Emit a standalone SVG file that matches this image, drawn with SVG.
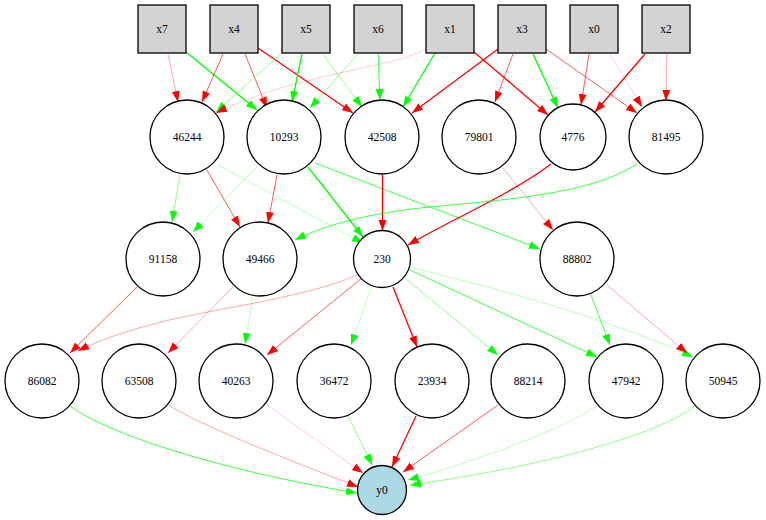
<svg xmlns="http://www.w3.org/2000/svg" width="766" height="520" viewBox="0 0 766 520">
<defs>
<marker id="ar" markerUnits="userSpaceOnUse" markerWidth="12" markerHeight="9" refX="11" refY="4" orient="auto"><polygon points="0,0 11,4 0,8" style="fill:#ff0000;stroke:none"/></marker>
<marker id="ag" markerUnits="userSpaceOnUse" markerWidth="12" markerHeight="9" refX="11" refY="4" orient="auto"><polygon points="0,0 11,4 0,8" style="fill:#00ff00;stroke:none"/></marker>
<style>
.box{fill:#d3d3d3;stroke:#000;stroke-width:1.3}
.c{fill:#fff;stroke:#000;stroke-width:1.3}
.out{fill:#add8e6;stroke:#000;stroke-width:1.3}
text{font-family:"Liberation Serif","Times New Roman",serif;font-size:11.5px;text-anchor:middle;fill:#000}
#connectors path{fill:none}
.r1{stroke:#ff0000;stroke-width:1.3;marker-end:url(#ar)}
.r2{stroke:#ff0000;stroke-opacity:.65;stroke-width:1;marker-end:url(#ar)}
.r3{stroke:#ff0000;stroke-opacity:.38;stroke-width:.9;marker-end:url(#ar)}
.r4{stroke:#ff0000;stroke-opacity:.22;stroke-width:.9;marker-end:url(#ar)}
.g1{stroke:#00ff00;stroke-width:1.3;marker-end:url(#ag)}
.g2{stroke:#00ff00;stroke-opacity:.75;stroke-width:1;marker-end:url(#ag)}
.g3{stroke:#00ff00;stroke-opacity:.5;stroke-width:.9;marker-end:url(#ag)}
.g4{stroke:#00ff00;stroke-opacity:.3;stroke-width:.9;marker-end:url(#ag)}
</style>
</defs>
<rect width="766" height="520" fill="#fff"/>
<g id="connectors">
<path class="r3" d="M168,54 L178,102"/>
<path class="g1" d="M186,52 L257,110"/>
<path class="r2" d="M223,54 L202,102"/>
<path class="r2" d="M245,54 L267,108"/>
<path class="r1" d="M258,48 L353,113"/>
<path class="g3" d="M282,53 L216,112"/>
<path class="g1" d="M302,54 L292,102"/>
<path class="g3" d="M323,54 L362,107"/>
<path class="g3" d="M358,54 L310,108"/>
<path class="g2" d="M378,54 L380,100"/>
<path class="g1" d="M435,53 L403,107"/>
<path class="r4" d="M425,49 C395,68 300,72 216,113"/>
<path class="r1" d="M498,49 L412,113"/>
<path class="r1" d="M474,52 L548,115"/>
<path class="r2" d="M513,54 L495,102"/>
<path class="g1" d="M533,54 L558,108"/>
<path class="r2" d="M546,49 L637,113"/>
<path class="r2" d="M589,54 L581,105"/>
<path class="r4" d="M610,54 L642,107"/>
<path class="r1" d="M645,54 L595,112"/>
<path class="r3" d="M667,54 L666,101"/>
<path class="g3" d="M180,175 L172,222"/>
<path class="r2" d="M207,170 L240,227"/>
<path class="g4" d="M218,165 L363,243"/>
<path class="g4" d="M257,167 L193,232"/>
<path class="r2" d="M277,175 L268,223"/>
<path class="g1" d="M308,167 L363,237"/>
<path class="g2" d="M315,163 L540,249"/>
<path class="r1" d="M382.5,175 L382.5,231"/>
<path class="r1" d="M551,164 C510,195 450,220 408,245"/>
<path class="r3" d="M503,168 L553,230"/>
<path class="g2" d="M637,164 C590,195 500,200 430,207 C380,212 330,222 295,240"/>
<path class="r2" d="M137,287 L70,353"/>
<path class="r3" d="M357,275 C300,300 200,310 150,325 C120,333 95,342 78,351"/>
<path class="r3" d="M233,287 L168,353"/>
<path class="g4" d="M253,297 L245,344"/>
<path class="r2" d="M362,278 L267,355"/>
<path class="g4" d="M371,288 L351,345"/>
<path class="r1" d="M393,287 L417,347"/>
<path class="g3" d="M405,278 L498,355"/>
<path class="g2" d="M410,270 L597,357"/>
<path class="g4" d="M410,267 C500,290 600,315 693,357"/>
<path class="g2" d="M591,295 L610,345"/>
<path class="r3" d="M607,285 L687,353"/>
<path class="g2" d="M70,406 C110,435 220,470 357,493"/>
<path class="r3" d="M168,405 C210,430 290,460 358,487"/>
<path class="r4" d="M267,405 L363,473"/>
<path class="g3" d="M348,416 L372,465"/>
<path class="r1" d="M416,416 L392,467"/>
<path class="r2" d="M498,405 L403,472"/>
<path class="g4" d="M597,406 C560,430 480,460 408,480"/>
<path class="g3" d="M695,406 C650,440 520,470 410,485"/>
</g>
<g id="x7"><rect class="box" x="138" y="5" width="48" height="48"/><text x="162" y="33">x7</text></g>
<g id="x4"><rect class="box" x="210" y="5" width="48" height="48"/><text x="234" y="33">x4</text></g>
<g id="x5"><rect class="box" x="282" y="5" width="48" height="48"/><text x="306" y="33">x5</text></g>
<g id="x6"><rect class="box" x="354" y="5" width="48" height="48"/><text x="378" y="33">x6</text></g>
<g id="x1"><rect class="box" x="426" y="5" width="48" height="48"/><text x="450" y="33">x1</text></g>
<g id="x3"><rect class="box" x="498" y="5" width="48" height="48"/><text x="522" y="33">x3</text></g>
<g id="x0"><rect class="box" x="570" y="5" width="48" height="48"/><text x="594" y="33">x0</text></g>
<g id="x2"><rect class="box" x="642" y="5" width="48" height="48"/><text x="666" y="33">x2</text></g>
<g id="n46244"><circle class="c" cx="187" cy="137" r="37"/><text x="187" y="141">46244</text></g>
<g id="n10293"><circle class="c" cx="284" cy="137" r="37"/><text x="284" y="141">10293</text></g>
<g id="n42508"><circle class="c" cx="382" cy="137" r="37"/><text x="382" y="141">42508</text></g>
<g id="n79801"><circle class="c" cx="479" cy="137" r="37"/><text x="479" y="141">79801</text></g>
<g id="n4776"><circle class="c" cx="573" cy="137" r="33"/><text x="573" y="141">4776</text></g>
<g id="n81495"><circle class="c" cx="666" cy="137" r="37"/><text x="666" y="141">81495</text></g>
<g id="n91158"><circle class="c" cx="163" cy="259" r="37"/><text x="163" y="263">91158</text></g>
<g id="n49466"><circle class="c" cx="260" cy="259" r="37"/><text x="260" y="263">49466</text></g>
<g id="n230"><circle class="c" cx="382" cy="259" r="28.5"/><text x="382" y="263">230</text></g>
<g id="n88802"><circle class="c" cx="577" cy="259" r="37"/><text x="577" y="263">88802</text></g>
<g id="n86082"><circle class="c" cx="42" cy="381" r="37"/><text x="42" y="385">86082</text></g>
<g id="n63508"><circle class="c" cx="139" cy="381" r="37"/><text x="139" y="385">63508</text></g>
<g id="n40263"><circle class="c" cx="236" cy="381" r="37"/><text x="236" y="385">40263</text></g>
<g id="n36472"><circle class="c" cx="334" cy="381" r="37"/><text x="334" y="385">36472</text></g>
<g id="n23934"><circle class="c" cx="432" cy="381" r="37"/><text x="432" y="385">23934</text></g>
<g id="n88214"><circle class="c" cx="528" cy="381" r="37"/><text x="528" y="385">88214</text></g>
<g id="n47942"><circle class="c" cx="626" cy="381" r="37"/><text x="626" y="385">47942</text></g>
<g id="n50945"><circle class="c" cx="723" cy="381" r="37"/><text x="723" y="385">50945</text></g>
<g id="y0"><circle class="out" cx="382" cy="490" r="24.5"/><text x="382" y="494">y0</text></g>
</svg>
